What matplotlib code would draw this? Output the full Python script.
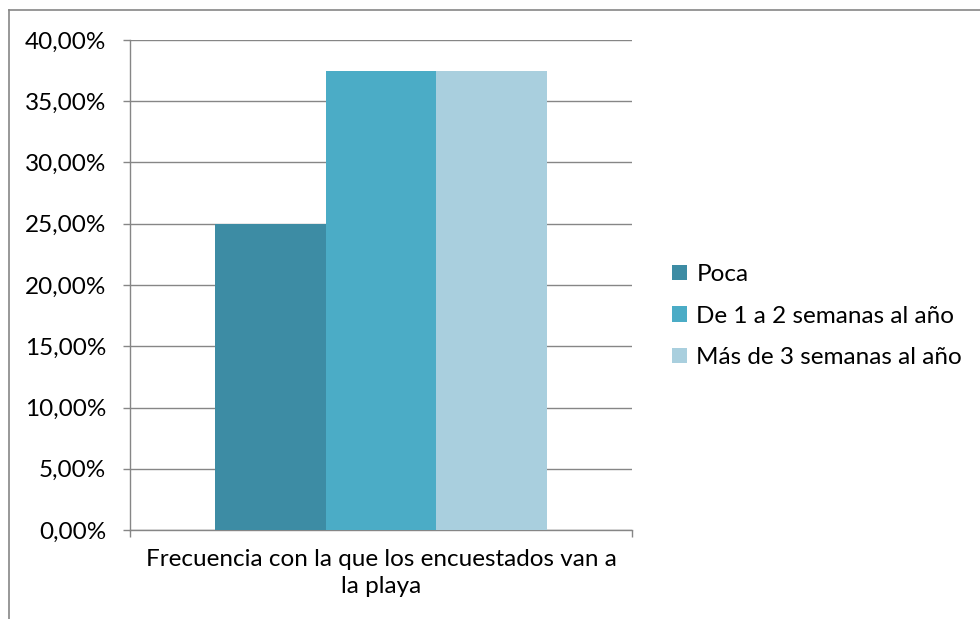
import matplotlib.pyplot as plt
from matplotlib.lines import Line2D
from matplotlib.ticker import FuncFormatter
import numpy as np

plt.rcParams['font.family'] = ['Lato', 'DejaVu Sans']

categoria = "Frecuencia con la que los encuestados van a\nla playa"
series = ["Poca", "De 1 a 2 semanas al año", "Más de 3 semanas al año"]
valores = [0.25, 0.375, 0.375]
colores = ["#3D8CA4", "#4BACC6", "#A9CFDE"]

fs = 17.5

fig = plt.figure(figsize=(9.8, 6.19), dpi=100)
ax = fig.add_axes([130/980, 1-530/619, 502/980, 490/619])

ancho = 0.221
offsets = (np.arange(len(series)) - 1) * ancho
for off, v, c, s in zip(offsets, valores, colores, series):
    ax.bar(off, v, width=ancho, color=c, label=s, zorder=3)

ax.set_xlim(-0.5, 0.5)
ax.set_ylim(0, 0.40)
ax.set_yticks(np.arange(0, 0.401, 0.05))
ax.yaxis.set_major_formatter(FuncFormatter(lambda y, p: f"{y*100:.2f}%".replace(".", ",")))
ax.yaxis.grid(True, color="#868686", linewidth=1, zorder=0)
ax.tick_params(axis="y", length=5, width=1, color="#868686", labelsize=fs, pad=12)

ax.set_xticks([-0.5, 0.5])
ax.set_xticklabels(["", ""])
ax.tick_params(axis="x", length=5, width=1, color="#868686", direction="out")
ax.annotate(categoria, xy=(0.5, 0), xycoords="axes fraction",
            xytext=(0, -14), textcoords="offset points",
            ha="center", va="top", fontsize=fs, linespacing=1.3)

for side in ["top", "right"]:
    ax.spines[side].set_visible(False)
for side in ["left", "bottom"]:
    ax.spines[side].set_color("#868686")
    ax.spines[side].set_linewidth(1)

ax.legend(loc="center left", bbox_to_anchor=(672/980, 1-316/619),
          bbox_transform=fig.transFigure, frameon=False, fontsize=fs,
          handlelength=0.6, handleheight=0.6, handletextpad=0.4,
          labelspacing=0.85, borderpad=0, borderaxespad=0)

# outer chart border
fig.add_artist(Line2D([9/980, 9/980], [0, 1-10/619], color="#868686", lw=1.2, transform=fig.transFigure))
fig.add_artist(Line2D([9/980, 1], [1-10/619, 1-10/619], color="#868686", lw=1.2, transform=fig.transFigure))

fig.savefig("out.png", dpi=100)
